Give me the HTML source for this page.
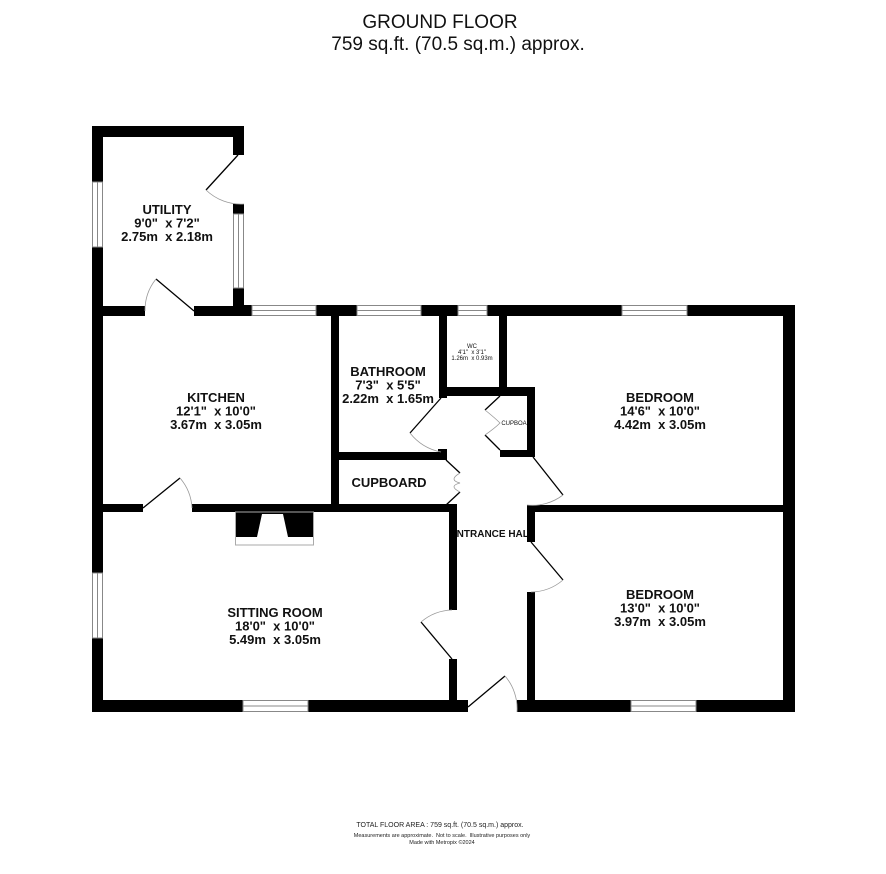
<!DOCTYPE html>
<html><head><meta charset="utf-8"><style>
body{margin:0;background:#fff;}
svg{display:block;font-family:"Liberation Sans",Arial,sans-serif;}
text{white-space:pre;}
.l{font-weight:bold;font-size:13px;text-anchor:middle;fill:#111;}
.s{font-size:6px;text-anchor:middle;fill:#111;}
</style></head><body>
<svg width="886" height="874" viewBox="0 0 886 874" xml:space="preserve">
<defs><clipPath id="hc"><rect x="457" y="515" width="70" height="30"/></clipPath></defs>
<text x="440" y="28" font-size="19" text-anchor="middle" fill="#111">GROUND FLOOR</text>
<text x="458" y="50" font-size="19" text-anchor="middle" fill="#111">759 sq.ft. (70.5 sq.m.) approx.</text>
<text x="450" y="537" font-size="10" font-weight="bold" fill="#111" clip-path="url(#hc)">ENTRANCE HALL</text>
<g fill="#000">
<rect x="92" y="126" width="152" height="11"/>
<rect x="92" y="126" width="11" height="586"/>
<rect x="233" y="126" width="11" height="29"/>
<rect x="233" y="204" width="11" height="112"/>
<rect x="103" y="306" width="42" height="10"/>
<rect x="194" y="306" width="50" height="10"/>
<rect x="233" y="305" width="562" height="11"/>
<rect x="783" y="305" width="12" height="407"/>
<rect x="92" y="700" width="376" height="12"/>
<rect x="517" y="700" width="278" height="12"/>
<rect x="331" y="316" width="8" height="196"/>
<rect x="103" y="504" width="40" height="8"/>
<rect x="192" y="504" width="265" height="8"/>
<rect x="449" y="504" width="8" height="106"/>
<rect x="449" y="659" width="8" height="53"/>
<rect x="338" y="452" width="108" height="8"/>
<rect x="438" y="449" width="9" height="11"/>
<rect x="439" y="316" width="8" height="82"/>
<rect x="439" y="387" width="95" height="9"/>
<rect x="499" y="316" width="8" height="72"/>
<rect x="527" y="387" width="8" height="70"/>
<rect x="500" y="450" width="35" height="7"/>
<rect x="527" y="505" width="256" height="7"/>
<rect x="527" y="505" width="8" height="37"/>
<rect x="527" y="592" width="8" height="120"/>
<rect x="235" y="512" width="25" height="25"/>
<rect x="285" y="512" width="28" height="25"/>
</g>
<polygon points="260,512 285,512 290,537 255,537" fill="#000"/>
<polygon points="262,514 283,514 288,537 257,537" fill="#fff"/>
<rect x="235.5" y="512" width="78" height="33" fill="none" stroke="#aaa" stroke-width="1"/>
<g fill="#fff" stroke="#888" stroke-width="1">
<rect x="233.5" y="214" width="10" height="74"/><line x1="238.5" y1="214" x2="238.5" y2="288"/>
<rect x="92.5" y="182" width="10" height="65"/><line x1="97.5" y1="182" x2="97.5" y2="247"/>
<rect x="92.5" y="573" width="10" height="65"/><line x1="97.5" y1="573" x2="97.5" y2="638"/>
<rect x="252" y="305.5" width="64" height="10"/><line x1="252" y1="310.5" x2="316" y2="310.5"/>
<rect x="357" y="305.5" width="64" height="10"/><line x1="357" y1="310.5" x2="421" y2="310.5"/>
<rect x="458" y="305.5" width="29" height="10"/><line x1="458" y1="310.5" x2="487" y2="310.5"/>
<rect x="622" y="305.5" width="65" height="10"/><line x1="622" y1="310.5" x2="687" y2="310.5"/>
<rect x="243" y="700.5" width="65" height="11"/><line x1="243" y1="706" x2="308" y2="706"/>
<rect x="631" y="700.5" width="65" height="11"/><line x1="631" y1="706" x2="696" y2="706"/>
</g>
<g fill="none" stroke="#000" stroke-width="1.3">
<path d="M238,155 L206,190"/><path d="M244,204 A50 50 0 0 1 206,190" stroke="#999" stroke-width="0.8"/>
<path d="M194,311 L156,279"/><path d="M145,311 A50 50 0 0 1 156,279" stroke="#999" stroke-width="0.8"/>
<path d="M143,508 L180,478"/><path d="M192,508 A50 50 0 0 0 180,478" stroke="#999" stroke-width="0.8"/>
<path d="M441,398 L410,433"/><path d="M441,452 A52 52 0 0 1 410,433" stroke="#999" stroke-width="0.8"/>
<path d="M446,460 L460,473 M446,505 L460,492"/><path d="M460,473 Q448,480 460,483 Q448,486 460,492" stroke="#999" stroke-width="0.8"/>
<path d="M500,396 L485,410 M500,450 L485,435"/><path d="M485,410 Q495,418 500,423 Q495,428 485,435" stroke="#999" stroke-width="0.8"/>
<path d="M533,457 L563,495"/><path d="M527,505 A50 50 0 0 0 563,495" stroke="#999" stroke-width="0.8"/>
<path d="M531,542 L563,580"/><path d="M531,592 A50 50 0 0 0 563,580" stroke="#999" stroke-width="0.8"/>
<path d="M452,659 L421,622"/><path d="M452,610 A50 50 0 0 0 421,622" stroke="#999" stroke-width="0.8"/>
<path d="M468,707 L505,676"/><path d="M517,712 A50 50 0 0 0 505,676" stroke="#999" stroke-width="0.8"/>
</g>
<text class="l" x="167" y="214">UTILITY<tspan x="167" dy="13.5">9'0"  x 7'2"</tspan><tspan x="167" dy="13.5">2.75m  x 2.18m</tspan></text>
<text class="l" x="216" y="402">KITCHEN<tspan x="216" dy="13.5">12'1"  x 10'0"</tspan><tspan x="216" dy="13.5">3.67m  x 3.05m</tspan></text>
<text class="l" x="388" y="376">BATHROOM<tspan x="388" dy="13.5">7'3"  x 5'5"</tspan><tspan x="388" dy="13.5">2.22m  x 1.65m</tspan></text>
<text class="s" x="472" y="348" font-size="5.5">WC<tspan x="472" dy="6">4'1"  x 3'1"</tspan><tspan x="472" dy="6">1.26m  x 0.93m</tspan></text>
<text class="l" x="660" y="402">BEDROOM<tspan x="660" dy="13.5">14'6"  x 10'0"</tspan><tspan x="660" dy="13.5">4.42m  x 3.05m</tspan></text>
<text class="l" x="389" y="487">CUPBOARD</text>
<text class="s" x="514" y="425" font-size="6">CUPBOA</text>
<text class="l" x="275" y="617">SITTING ROOM<tspan x="275" dy="13.5">18'0"  x 10'0"</tspan><tspan x="275" dy="13.5">5.49m  x 3.05m</tspan></text>
<text class="l" x="660" y="599">BEDROOM<tspan x="660" dy="13.5">13'0"  x 10'0"</tspan><tspan x="660" dy="13.5">3.97m  x 3.05m</tspan></text>
<text x="440" y="827" font-size="7" text-anchor="middle" fill="#222">TOTAL FLOOR AREA : 759 sq.ft. (70.5 sq.m.) approx.</text>
<text x="442" y="837" font-size="5.5" text-anchor="middle" fill="#222">Measurements are approximate.  Not to scale.  Illustrative purposes only</text>
<text x="442" y="844" font-size="5.5" text-anchor="middle" fill="#222">Made with Metropix ©2024</text>
</svg>
</body></html>
